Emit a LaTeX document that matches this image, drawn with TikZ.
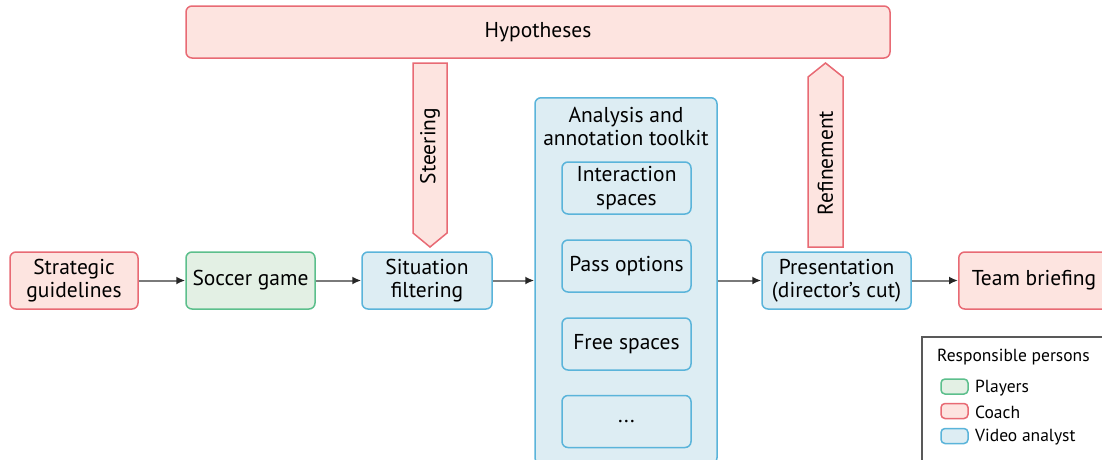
\documentclass[tikz,border=0pt]{standalone}
\usepackage{fontspec}
\setmainfont{PT Sans}
\usetikzlibrary{arrows.meta}
\definecolor{pinkfill}{HTML}{FDE4E0}
\definecolor{pinkdraw}{HTML}{E86A74}
\definecolor{greenfill}{HTML}{E3F0E4}
\definecolor{greendraw}{HTML}{5CBF8C}
\definecolor{bluefill}{HTML}{DDEDF3}
\definecolor{bluedraw}{HTML}{5AB4DA}
\definecolor{linegray}{HTML}{7A7A7A}
\tikzset{
  bigfont/.style={font=\fontsize{21.5}{23.5}\selectfont},
  box/.style={rounded corners=6pt, line width=1.5pt, align=center, bigfont, inner sep=0pt},
  coach/.style={box, fill=pinkfill, draw=pinkdraw},
  player/.style={box, fill=greenfill, draw=greendraw},
  analyst/.style={box, fill=bluefill, draw=bluedraw},
  blockarrow/.style={fill=pinkfill, draw=pinkdraw, line width=1.5pt, line join=miter},
  conn/.style={draw=linegray, line width=2pt, -{Latex[length=9pt,width=8pt,color=black!85]}},
  legtext/.style={font=\fontsize{17.5}{19}\selectfont, anchor=west, inner sep=0pt},
  swatch/.style={rounded corners=4pt, line width=1.5pt, minimum width=27pt, minimum height=15pt, inner sep=0pt}
}
\begin{document}
\begin{tikzpicture}[x=1pt,y=-1pt]
\useasboundingbox (0,0) rectangle (1102,459);
% Hypotheses
\node[coach, minimum width=704pt, minimum height=52pt] (hyp) at (538,32) {Hypotheses};
% block arrows
\draw[blockarrow] (413,63) -- (447,63) -- (447,233) -- (430,247) -- (413,233) -- cycle;
\node[rotate=90, bigfont, inner sep=0pt] (steer) at (430,146) {Steering};
\draw[blockarrow] (808,247) -- (843,247) -- (843,77) -- (825.5,63) -- (808,77) -- cycle;
\node[rotate=90, bigfont, inner sep=0pt] (refine) at (825.5,163) {Refinement};
% main row
\node[coach, minimum width=128pt, minimum height=57pt] (strat) at (74,280.5) {Strategic\\guidelines};
\node[player, minimum width=129pt, minimum height=57pt] (soccer) at (250.5,280.5) {Soccer game};
\node[analyst, minimum width=130pt, minimum height=57pt] (filter) at (427,280.5) {Situation\\filtering};
% toolkit
\node[analyst, minimum width=182pt, minimum height=366pt, anchor=north] (tool) at (626,97) {};
\node[bigfont, align=center, anchor=north, inner sep=0pt] (tooltitle) at (626,107) {Analysis and\\annotation toolkit};
\node[analyst, minimum width=129pt, minimum height=52pt] (inter) at (626.5,188) {Interaction\\spaces};
\node[analyst, minimum width=129pt, minimum height=52pt] (pass) at (626.5,266) {Pass options};
\node[analyst, minimum width=129pt, minimum height=52pt] (free) at (626.5,344) {Free spaces};
\node[analyst, minimum width=129pt, minimum height=52pt] (dots) at (626.5,421.5) {...};
\node[analyst, minimum width=149pt, minimum height=57pt] (pres) at (836.5,280.5) {Presentation\\(director’s cut)};
\node[coach, minimum width=156pt, minimum height=57pt, anchor=west] (team) at (958,280.5) {};
\node[bigfont, inner sep=0pt] (teamtext) at (1034,280.5) {Team briefing};
% connectors
\draw[conn] (strat.east) -- (soccer.west);
\draw[conn] (soccer.east) -- (filter.west);
\draw[conn] (filter.east) -- (tool.west |- filter.east);
\draw[conn] (tool.east |- pres.west) -- (pres.west);
\draw[conn] (pres.east) -- (team.west);
% legend
\node[draw=black!65, line width=1.5pt, fill=white, minimum width=200pt, minimum height=140pt, anchor=north west, inner sep=0pt] (legend) at (921,336) {};
\node[legtext] (legtitle) at (937,357) {Responsible persons};
\node[swatch, fill=greenfill, draw=greendraw] (swg) at (954.5,386.5) {};
\node[swatch, fill=pinkfill, draw=pinkdraw] (swp) at (954.5,411) {};
\node[swatch, fill=bluefill, draw=bluedraw] (swb) at (954.5,436) {};
\node[legtext] (lg) at (975,388) {Players};
\node[legtext] (lp) at (975,412) {Coach};
\node[legtext] (lb) at (975,437) {Video analyst};
\end{tikzpicture}
\end{document}
